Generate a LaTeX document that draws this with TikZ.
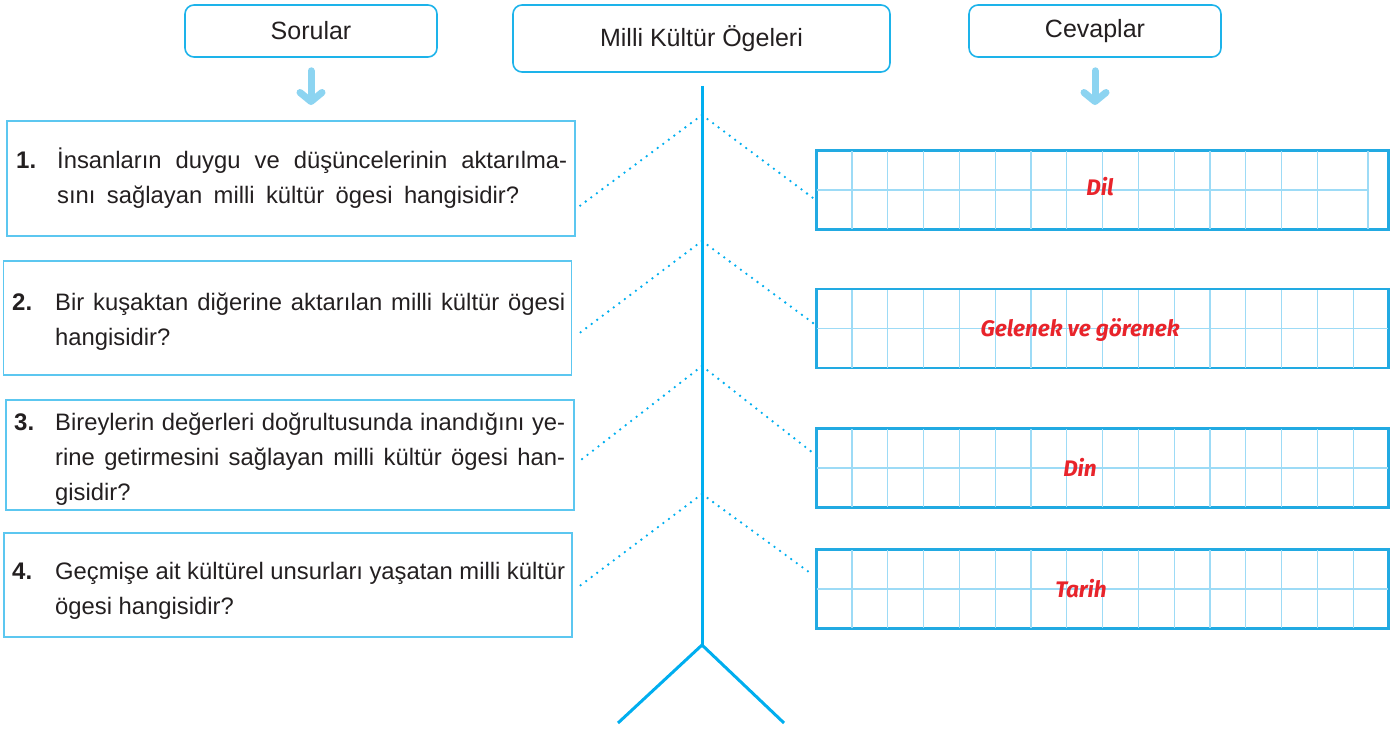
\documentclass[tikz,border=0pt]{standalone}
\usepackage{fontspec}
\setmainfont{Liberation Sans}
\newfontfamily\answerfont{Fira Sans}
\usetikzlibrary{arrows.meta,calc}

\definecolor{headblue}{HTML}{1DB3EA}
\definecolor{qblue}{HTML}{5CC7F0}
\definecolor{trunkblue}{HTML}{00AEEF}
\definecolor{arrowblue}{HTML}{8CD4F1}
\definecolor{ansblue}{HTML}{22AAE2}
\definecolor{gridblue}{HTML}{9DDBF6}
\definecolor{ansred}{HTML}{E8242B}
\definecolor{inkgrey}{HTML}{231F20}

% word spaces that can stretch inside the question lines
\newcommand\qspacing{\spaceskip=0.278em plus 0.4em minus 0.07em\relax}
% one justified line of a question
\newcommand\fullline[2][510pt]{\makebox[#1][s]{\qspacing#2}}

\tikzset{
  headbox/.style={draw=headblue,line width=1.6pt,rounded corners=9pt,inner sep=0pt,
    text=inkgrey,font=\fontsize{25}{30}\selectfont},
  qbox/.style={draw=qblue,line width=1.6pt,minimum width=568pt,inner sep=0pt},
  qnum/.style={anchor=base west,inner sep=0pt,text=inkgrey,
    font=\fontsize{24}{35}\selectfont\bfseries},
  qtext/.style={anchor=base west,inner sep=0pt,text width=510pt,align=left,text=inkgrey,
    font=\fontsize{23.8}{35}\selectfont,execute at begin node=\qspacing},
  ansbox/.style={draw=ansblue,line width=1.8pt,minimum width=571pt,minimum height=78pt,inner sep=0pt},
  anstext/.style={anchor=base,inner sep=0pt,text=ansred,
    font=\answerfont\fontsize{22.5}{27}\selectfont\bfseries\itshape},
  gridline/.style={draw=gridblue,line width=1.2pt},
  spine/.style={draw=trunkblue,line width=3pt},
  dotline/.style={draw=trunkblue,line width=2.6pt,line cap=round,dash pattern=on 0pt off 6.9pt},
  downarrow/.style={draw=arrowblue,line width=7pt,line cap=round,shorten <=13pt,
    -{Straight Barb[length=9pt,width=22pt,line cap=round,line join=round]}}
}

\begin{document}
\begin{tikzpicture}[x=1pt,y=-1pt]
  \useasboundingbox (0,0) rectangle (1396,730);

  % headers
  \node[headbox,minimum width=252pt,minimum height=52pt] (sorular) at (311,31) {Sorular};
  \node[headbox,minimum width=377pt,minimum height=67pt] (ogeler)  at (701.5,38.5) {Milli Kültür Ögeleri};
  \node[headbox,minimum width=252pt,minimum height=52pt] (cevaplar) at (1095,31) {Cevaplar};

  \coordinate (sorTip) at (311,105);
  \coordinate (cevTip) at (1095,105);
  \draw[downarrow] (sorular.south) -- (sorTip);
  \draw[downarrow] (cevaplar.south) -- (cevTip);

  % spine of the diagram
  \coordinate (top)  at (702,86);
  \coordinate (base) at (702,645);
  \coordinate (legL) at (618,723);
  \coordinate (legR) at (784,723);
  \draw[spine] (top) -- (base);
  \draw[spine] (legL) -- (base) -- (legR);

  % questions
  \node[qbox,minimum height=115pt] (q1) at (291,178.5) {};
  \node[qbox,minimum height=114pt] (q2) at (287.5,318) {};
  \node[qbox,minimum height=110pt] (q3) at (290,455) {};
  \node[qbox,minimum height=104pt] (q4) at (288,585) {};

  \node[qnum] (n1) at (16,169) {1.};
  \node[qtext] (t1) at (57,169) {\fullline{İnsanların duygu ve düşüncelerinin aktarılma-}\\ \fullline[462pt]{sını sağlayan milli kültür ögesi hangisidir?}};
  \node[qnum] (n2) at (12,310) {2.};
  \node[qtext] (t2) at (55,310) {\fullline{Bir kuşaktan diğerine aktarılan milli kültür ögesi}\\ hangisidir?};
  \node[qnum] (n3) at (14,430) {3.};
  \node[qtext] (t3) at (55,430) {\fullline{Bireylerin değerleri doğrultusunda inandığını ye-}\\ \fullline{rine getirmesini sağlayan milli kültür ögesi han-}\\ gisidir?};
  \node[qnum] (n4) at (12,579) {4.};
  \node[qtext] (t4) at (55,579) {\fullline{Geçmişe ait kültürel unsurları yaşatan milli kültür}\\ ögesi hangisidir?};

  % answers
  \node[ansbox] (a1) at (1102.5,190) {};
  \node[ansbox] (a2) at (1102.5,328.5) {};
  \node[ansbox] (a3) at (1102.5,468) {};
  \node[ansbox] (a4) at (1102.5,589) {};

  \foreach \b in {a2,a3,a4} {
    \foreach \i in {1,...,15}
      \draw[gridline] ($(\b.north west)!\i/16!(\b.north east)$) -- ($(\b.south west)!\i/16!(\b.south east)$);
    \draw[gridline] (\b.west) -- (\b.east);
    \draw[draw=ansblue,line width=1.8pt] (\b.north west) rectangle (\b.south east);
  }
  \foreach \i in {1,...,14}
    \draw[gridline] ($(a1.north west)!\i/16!(a1.north east)$) -- ($(a1.south west)!\i/16!(a1.south east)$);
  \coordinate (a1cut) at (1368,190);
  \draw[gridline] (a1cut |- a1.north) -- (a1cut |- a1.south);
  \draw[gridline] (a1.west) -- (a1cut);
  \draw[draw=ansblue,line width=1.8pt] (a1.north west) rectangle (a1.south east);

  \node[anstext] (dil)     at (1100,195) {Dil};
  \node[anstext] (gelenek) at (1080,336) {Gelenek ve görenek};
  \node[anstext] (din)     at (1080,476) {Din};
  \node[anstext] (tarih)   at (1081,597) {Tarih};

  % dotted branches
  \coordinate (j1) at (702,115);
  \coordinate (j2) at (702,241);
  \coordinate (j3) at (702,366);
  \coordinate (j4) at (702,494);
  \coordinate (q1e) at (577,208);
  \coordinate (q2e) at (577,335);
  \coordinate (q3e) at (577,463);
  \coordinate (q4e) at (577,588);
  \coordinate (a1e) at (813,198);
  \coordinate (a2e) at (813,323);
  \coordinate (a3e) at (813,453);
  \coordinate (a4e) at (813,575);
  \foreach \k in {1,2,3,4} {
    \draw[dotline] (j\k) -- (q\k e);
    \draw[dotline] (j\k) -- (a\k e);
  }
\end{tikzpicture}
\end{document}
